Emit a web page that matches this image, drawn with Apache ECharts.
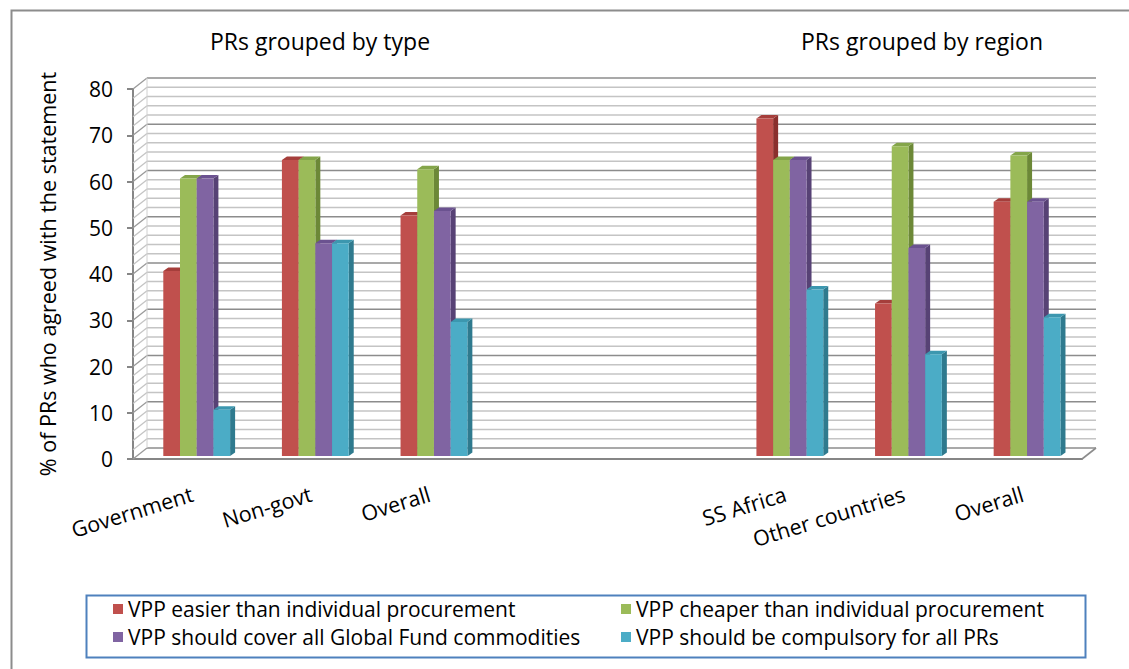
<!DOCTYPE html>
<html>
<head>
<meta charset="utf-8">
<script src="https://cdn.jsdelivr.net/npm/echarts@6/dist/echarts.min.js"></script>
<style>
  html, body { margin: 0; padding: 0; background: #ffffff; }
  #chart { width: 1129px; height: 669px; }
</style>
</head>
<body>
<div id="chart"></div>
<script>
// Categories along the floor; the two blank slots separate the "type" and "region" groups
const categories = ['Government', 'Non-govt', 'Overall', '', '', 'SS Africa', 'Other countries', 'Overall'];

const seriesNames = [
  'VPP easier than individual procurement',
  'VPP cheaper than individual procurement',
  'VPP should cover all Global Fund commodities',
  'VPP should be compulsory for all PRs'
];

// % of PRs who agreed, per category (null = empty slot)
const easier     = [40, 64, 52, null, null, 73, 33, 55];
const cheaper    = [60, 64, 62, null, null, 64, 67, 65];
const coverAll   = [60, 46, 53, null, null, 64, 45, 55];
const compulsory = [10, 46, 29, null, null, 36, 22, 30];

const groupTitles = ['PRs grouped by type', 'PRs grouped by region'];
const yAxisTitle = '% of PRs who agreed with the statement';

// value axis
const yMin = 0, yMax = 80, yStep = 10, yMinorStep = 2;

// Office palette: front face, side face, top face
const faceColors = ['#C0504D', '#9BBB59', '#8064A2', '#4BACC6'];
const sideColors = ['#8A2F2D', '#6C8837', '#574275', '#2F7A8E'];
const topColors  = ['#A53E3B', '#84A54A', '#6B5290', '#3C97AF'];

const FONT = "'Open Sans', sans-serif";
const WALL_DEPTH = [14, -11];   // back wall offset from the front plane
const BAR_DEPTH = [5, -3.5];    // visible depth of each column
const BAR_LIFT = -3;            // columns stand slightly behind the front edge
const BAR_FRAC = 0.1408;        // column width as a share of a category slot
const GROUP_SHIFT = 0.037;      // perspective shift of each column group

const chart = echarts.init(document.getElementById('chart'), null, { renderer: 'svg' });

function seriesData(values) {
  return values.map((v, i) => [i, v]).filter(d => d[1] !== null);
}

// Back wall, left side wall and floor outline
function renderWalls(params, api) {
  const cs = params.coordSys;
  const left = cs.x, right = cs.x + cs.width, bottom = cs.y + cs.height;
  const [dx, dy] = WALL_DEPTH;
  const children = [];
  for (let v = yMin; v <= yMax; v += yMinorStep) {
    const y = api.coord([0, v])[1];
    const major = v % yStep === 0;
    const stroke = major ? '#8C8C8C' : '#C4C4C4';
    children.push({
      type: 'line',
      shape: { x1: left + dx, y1: y + dy, x2: right + dx, y2: y + dy },
      style: { stroke: stroke, lineWidth: 1.6 }
    });
    children.push({
      type: 'line',
      shape: { x1: left, y1: y, x2: left + dx, y2: y + dy },
      style: { stroke: major ? '#9A9A9A' : '#C4C4C4', lineWidth: 1.3 }
    });
  }
  children.push({
    type: 'line',
    shape: { x1: left + dx, y1: api.coord([0, yMax])[1] + dy, x2: left + dx, y2: bottom + dy },
    style: { stroke: '#D0D0D0', lineWidth: 1 }
  });
  children.push({
    type: 'line',
    shape: { x1: right, y1: bottom, x2: right + dx, y2: bottom + dy },
    style: { stroke: '#8C8C8C', lineWidth: 1.6 }
  });
  return { type: 'group', children: children };
}

function columnRenderer(k) {
  return function (params, api) {
    const cat = api.value(0), val = api.value(1);
    const p0 = api.coord([cat, 0]);
    const p1 = api.coord([cat, val]);
    const slot = api.size([1, 0])[0];
    const bw = slot * BAR_FRAC;
    const x = p0[0] - 2 * bw + k * bw + slot * GROUP_SHIFT;
    const yb = p0[1] + BAR_LIFT, yt = p1[1] + BAR_LIFT;
    const [dx, dy] = BAR_DEPTH;
    return {
      type: 'group',
      children: [
        { type: 'polygon', shape: { points: [[x + bw, yt], [x + bw + dx, yt + dy], [x + bw + dx, yb + dy], [x + bw, yb]] },
          style: { fill: sideColors[k] } },
        { type: 'polygon', shape: { points: [[x, yt], [x + dx, yt + dy], [x + bw + dx, yt + dy], [x + bw, yt]] },
          style: { fill: topColors[k] } },
        { type: 'rect', shape: { x: x, y: yt, width: bw, height: yb - yt },
          style: { fill: faceColors[k] } }
      ]
    };
  };
}

const valueSets = [easier, cheaper, coverAll, compulsory];

const columnSeries = valueSets.map((vals, k) => ({
  type: 'custom',
  name: seriesNames[k],
  renderItem: columnRenderer(k),
  itemStyle: { color: faceColors[k] },
  encode: { x: 0, y: 1 },
  data: seriesData(vals),
  z: 3
}));

const legendText = { fontSize: 21, lineHeight: 22, color: '#000000', fontFamily: FONT };

const option = {
  animation: false,
  backgroundColor: '#ffffff',
  textStyle: { fontFamily: FONT },
  title: [
    { text: groupTitles[0], left: 320, top: 29, textAlign: 'center', padding: 0,
      textStyle: { fontSize: 23, fontWeight: 'normal', color: '#000000', fontFamily: FONT } },
    { text: groupTitles[1], left: 922, top: 29, textAlign: 'center', padding: 0,
      textStyle: { fontSize: 23, fontWeight: 'normal', color: '#000000', fontFamily: FONT } }
  ],
  grid: { left: 133, right: 47, top: 89, bottom: 210, outerBoundsMode: 'none' },
  xAxis: {
    type: 'category',
    data: categories,
    axisLine: { show: true, lineStyle: { color: '#868686', width: 2 } },
    axisTick: { show: false },
    splitLine: { show: false },
    axisLabel: { interval: 0, rotate: 17, margin: 34, fontSize: 21.5, color: '#000000', fontFamily: FONT }
  },
  yAxis: {
    type: 'value',
    min: yMin, max: yMax, interval: yStep,
    name: yAxisTitle,
    nameLocation: 'middle',
    nameGap: 75,
    nameTextStyle: { fontSize: 21.5, color: '#000000', fontFamily: FONT },
    axisLine: { show: true, lineStyle: { color: '#868686', width: 2 } },
    axisTick: { show: true, length: 6, lineStyle: { color: '#868686', width: 2 } },
    splitLine: { show: false },
    axisLabel: { margin: 20, fontSize: 21, color: '#000000', fontFamily: FONT }
  },
  legend: [
    { orient: 'vertical', left: 113, top: 598, padding: 0, itemGap: 6, itemWidth: 10, itemHeight: 10,
      icon: 'rect', selectedMode: false, data: [seriesNames[0], seriesNames[2]], textStyle: legendText },
    { orient: 'vertical', left: 621, top: 598, padding: 0, itemGap: 6, itemWidth: 10, itemHeight: 10,
      icon: 'rect', selectedMode: false, data: [seriesNames[1], seriesNames[3]], textStyle: legendText }
  ],
  graphic: [
    { type: 'rect', left: 9, top: 8, shape: { width: 1200, height: 720 },
      style: { fill: 'none', stroke: '#8C8C8C', lineWidth: 2 }, silent: true, z: -1 },
    { type: 'rect', left: 84, top: 593, shape: { width: 999, height: 62 },
      style: { fill: 'none', stroke: '#4F81BD', lineWidth: 2 }, silent: true }
  ],
  series: [
    {
      type: 'custom',
      name: 'walls',
      silent: true,
      renderItem: renderWalls,
      encode: { x: 0, y: 1 },
      data: [[0, 0]],
      z: 1
    }
  ].concat(columnSeries)
};

chart.setOption(option);
</script>
</body>
</html>
